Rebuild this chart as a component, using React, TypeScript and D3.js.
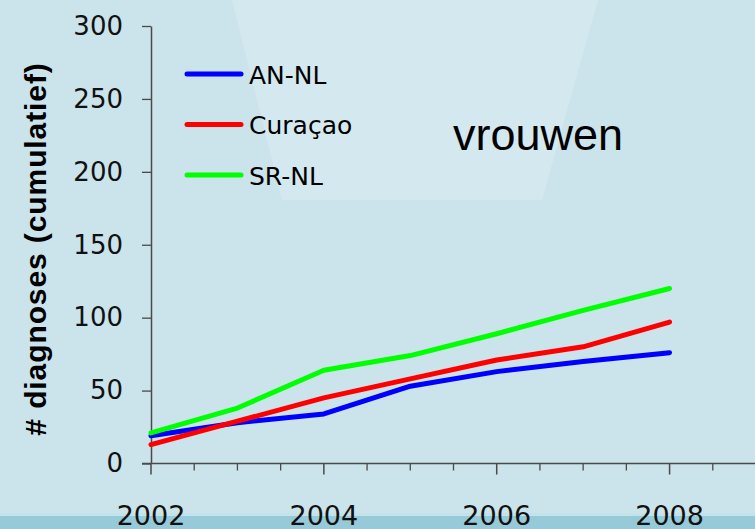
import React, { useEffect, useRef } from "react";
import * as d3 from "d3";

// cumulative diagnoses, women
const years = [2002, 2003, 2004, 2005, 2006, 2007, 2008];
const anNL = [19, 28, 34, 53, 63, 70, 76];
const curacao = [13, 29, 45, 58, 71, 80, 97];
const srNL = [21, 38, 64, 74, 89, 105, 120];

const seriesNames = ["AN-NL", "Curaçao", "SR-NL"];
const seriesColors = ["#0000ff", "#ff0000", "#00ff00"];
const yTicks = [0, 50, 100, 150, 200, 250, 300];
const xLabels = [2002, 2004, 2006, 2008];

const W = 755;
const H = 529;

export default function App() {
  const ref = useRef<SVGSVGElement | null>(null);

  useEffect(() => {
    const svg = d3.select(ref.current);
    svg.selectAll("*").remove();

    // background + light panel + bottom strip
    svg.append("rect").attr("width", W).attr("height", H).attr("fill", "#cbe3ea");
    svg.append("path")
      .attr("d", "M232,0 L598,0 L542,200 L282,200 Z")
      .attr("fill", "#d4e9ef");
    svg.append("rect").attr("x", 0).attr("y", 513).attr("width", W).attr("height", 4).attr("fill", "#c3e2ea");
    svg.append("rect").attr("x", 0).attr("y", 516).attr("width", W).attr("height", H - 516).attr("fill", "#97cad8");

    const x = d3.scaleLinear().domain([2002, 2009]).range([151, 756]);
    const y = d3.scaleLinear().domain([0, 300]).range([463.5, 26]);

    const axisColor = "#4a4a4a";

    // y axis
    const gy = svg.append("g").attr("transform", "translate(151,0)");
    gy.call(d3.axisLeft(y).tickValues(yTicks).tickSize(9).tickSizeOuter(0).tickFormat(d3.format("d")));
    gy.select(".domain").attr("stroke", axisColor).attr("stroke-width", 1.5);
    gy.selectAll(".tick line").attr("stroke", axisColor).attr("stroke-width", 1.3);
    gy.selectAll(".tick text")
      .attr("x", -28)
      .attr("fill", "#111")
      .style("font-family", "DejaVu Sans")
      .style("font-size", "26px");

    // x axis: minor ticks each half year, long ticks every two years
    const gx = svg.append("g").attr("transform", "translate(0,463.5)");
    gx.append("line")
      .attr("x1", 142).attr("x2", W)
      .attr("stroke", axisColor).attr("stroke-width", 1.5);
    const halfYears = d3.range(2002.5, 2009.01, 0.5);
    gx.selectAll("line.minor")
      .data(halfYears.filter(d => !xLabels.includes(d)))
      .join("line")
      .attr("class", "minor")
      .attr("x1", d => x(d)).attr("x2", d => x(d))
      .attr("y1", 0).attr("y2", 7)
      .attr("stroke", axisColor).attr("stroke-width", 1.3);
    gx.selectAll("line.major")
      .data(xLabels)
      .join("line")
      .attr("class", "major")
      .attr("x1", d => x(d)).attr("x2", d => x(d))
      .attr("y1", 0).attr("y2", 11)
      .attr("stroke", axisColor).attr("stroke-width", 1.5);
    gx.selectAll("text")
      .data(xLabels)
      .join("text")
      .attr("x", d => x(d))
      .attr("y", 61)
      .attr("text-anchor", "middle")
      .attr("fill", "#111")
      .style("font-family", "DejaVu Sans")
      .style("font-size", "27px")
      .text(d => d);

    // y title
    svg.append("text")
      .attr("transform", "translate(46,249) rotate(-90)")
      .attr("text-anchor", "middle")
      .style("font-family", "Liberation Sans")
      .style("font-weight", "bold")
      .style("font-size", "30px")
      .style("letter-spacing", "0.9px")
      .text("# diagnoses (cumulatief)");

    // lines
    const data = [anNL, curacao, srNL];
    const line = d3.line<number>()
      .x((d, i) => x(years[i]))
      .y(d => y(d));
    data.forEach((vals, i) => {
      svg.append("path")
        .datum(vals)
        .attr("fill", "none")
        .attr("stroke", seriesColors[i])
        .attr("stroke-width", 5)
        .attr("stroke-linejoin", "round")
        .attr("stroke-linecap", "round")
        .attr("d", line);
    });

    // legend
    const legendY = [74, 124.5, 175];
    seriesNames.forEach((name, i) => {
      svg.append("line")
        .attr("x1", 187).attr("x2", 241)
        .attr("y1", legendY[i]).attr("y2", legendY[i])
        .attr("stroke", seriesColors[i])
        .attr("stroke-width", 5)
        .attr("stroke-linecap", "round");
      svg.append("text")
        .attr("x", 249)
        .attr("y", legendY[i] + 9.5)
        .style("font-family", "DejaVu Sans")
        .style("font-size", "25px")
        .text(name);
    });

    svg.append("text")
      .attr("x", 453)
      .attr("y", 150)
      .style("font-family", "Liberation Sans")
      .style("font-size", "45px")
      .text("vrouwen");
  }, []);

  return (
    <svg
      ref={ref}
      width={W}
      height={H}
      style={{ position: "absolute", left: 0, top: 0, display: "block" }}
    />
  );
}
